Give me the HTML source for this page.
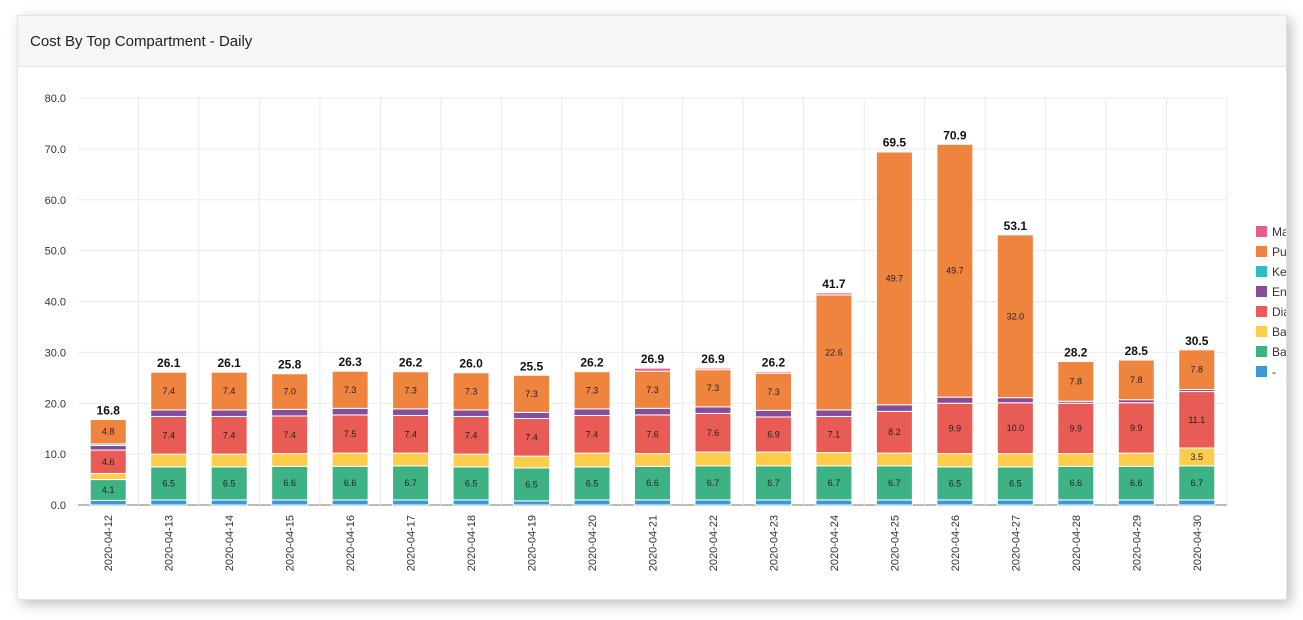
<!DOCTYPE html>
<html><head><meta charset="utf-8">
<style>
html,body{margin:0;padding:0;width:1303px;height:620px;overflow:hidden;background:#fff;font-family:"Liberation Sans",sans-serif;}
#card{position:absolute;left:17px;top:15px;width:1268px;height:583px;background:#fff;border:1px solid #e3e3e3;box-shadow:4px 4px 12px rgba(0,0,0,0.25);overflow:hidden;}
#hdr{position:absolute;left:0;top:0;right:0;height:50px;background:#f6f6f6;border-bottom:1px solid #e2e2e2;}
#hdr span{position:absolute;left:12px;top:17px;font-size:15px;color:#222;}
svg{position:absolute;left:0;top:0;}
</style></head><body>
<div id="card">
<div id="hdr"><span>Cost By Top Compartment - Daily</span></div>
<svg id="chart" width="1268" height="583"></svg>
</div>
<script>
const categories=["2020-04-12","2020-04-13","2020-04-14","2020-04-15","2020-04-16","2020-04-17","2020-04-18","2020-04-19","2020-04-20","2020-04-21","2020-04-22","2020-04-23","2020-04-24","2020-04-25","2020-04-26","2020-04-27","2020-04-28","2020-04-29","2020-04-30"];
const seriesNames=["-","Base","Backup","Diagnostics","Entities","Keys","Public","Management"];
const seriesColors=["#3a9ad9","#3db284","#fccd4a","#e95c55","#874d9b","#2bbfbf","#ee843e","#e85d8a"];
const sDash=[0.9,1.0,1.0,1.0,1.0,1.0,1.0,0.8,1.0,1.0,1.0,1.0,1.0,1.0,1.0,1.0,1.0,1.0,1.0];
const sBase=[4.1,6.5,6.5,6.6,6.6,6.7,6.5,6.5,6.5,6.6,6.7,6.7,6.7,6.7,6.5,6.5,6.6,6.6,6.7];
const sBackup=[1.2,2.5,2.5,2.5,2.6,2.5,2.5,2.3,2.7,2.5,2.7,2.7,2.6,2.5,2.6,2.6,2.5,2.6,3.5];
const sDiag=[4.6,7.4,7.4,7.4,7.5,7.4,7.4,7.4,7.4,7.6,7.6,6.9,7.1,8.2,9.9,10.0,9.9,9.9,11.1];
const sEnt=[0.9,1.3,1.3,1.3,1.3,1.3,1.3,1.2,1.3,1.3,1.3,1.3,1.3,1.3,1.2,1.0,0.4,0.6,0.4];
const sKeys=[0.3,0,0,0,0,0,0,0,0,0,0,0,0,0,0,0,0,0,0];
const sPublic=[4.8,7.4,7.4,7.0,7.3,7.3,7.3,7.3,7.3,7.3,7.3,7.3,22.6,49.7,49.7,32.0,7.8,7.8,7.8];
const sMgmt=[0,0,0,0,0,0,0,0,0,0.6,0.3,0.3,0.4,0.1,0,0,0,0,0];
const totals=["16.8","26.1","26.1","25.8","26.3","26.2","26.0","25.5","26.2","26.9","26.9","26.2","41.7","69.5","70.9","53.1","28.2","28.5","30.5"];
const yTicks=[0,10,20,30,40,50,60,70,80];
const series=[sDash,sBase,sBackup,sDiag,sEnt,sKeys,sPublic,sMgmt];

const NS="http://www.w3.org/2000/svg";
const svg=document.getElementById('chart');
const ox=17, oy=15;
const plotL=77-ox, plotR=1226-ox, plotB=504-oy, plotT=97-oy, yMax=80;
const band=(plotR-plotL)/categories.length, barW=36;
function y(v){return plotB-(v/yMax)*(plotB-plotT);}
function xc(i){return plotL+band*(i+0.5);}
function mk(tag,attrs,parent){const e=document.createElementNS(NS,tag);for(const k in attrs)e.setAttribute(k,attrs[k]);(parent||svg).appendChild(e);return e;}

yTicks.forEach(t=>{
  const l=mk('line',{x1:plotL,x2:plotR,y1:y(t),y2:y(t),stroke:t===0?'#bbb':'#e8ebef','stroke-width':t===0?2:1});
  
  
  const tx=mk('text',{x:plotL-12,y:y(t)+4,'text-anchor':'end','font-size':11,fill:'#333'});
  tx.textContent=t.toFixed(1);
  
  
});
for(let i=1;i<=categories.length;i++){
  const l=mk('line',{x1:plotL+band*i,x2:plotL+band*i,y1:plotT,y2:plotB,stroke:'#e8ebef','stroke-width':1});
  
  
}
categories.forEach((c,i)=>{
  let acc=0;
  series.forEach((s,k)=>{
    const v=s[i]; if(v<=0)return;
    const y0=y(acc), y1=y(acc+v); acc+=v;
    const r=mk('rect',{x:xc(i)-barW/2,y:y1,width:barW,height:y0-y1,fill:seriesColors[k],stroke:'#fff','stroke-width':1});
    
    
    if(v>=3.4){
      const t=mk('text',{x:xc(i),y:(y0+y1)/2+3,'text-anchor':'middle','font-size':9,fill:'#222'});
      t.textContent=v.toFixed(1);
      
      
    }
  });
  const tt=mk('text',{x:xc(i),y:y(acc)-5,'text-anchor':'middle','font-size':12,'font-weight':'bold',fill:'#111'});
  tt.textContent=totals[i];
  
  
  const xl=mk('text',{x:0,y:0,'text-anchor':'end','font-size':11,fill:'#333',transform:`translate(${xc(i)+4},${plotB+10}) rotate(-90)`});
  xl.textContent=c;
  
  
});
const order=[7,6,5,4,3,2,1,0];
order.forEach((k,j)=>{
  const ly=231-oy+j*20;
  const r=mk('rect',{x:1255-ox,y:ly-6,width:11,height:11,fill:seriesColors[k]});
  
  
  const t=mk('text',{x:1271-ox,y:ly+4,'font-size':12,fill:'#333'});
  t.textContent=seriesNames[k];
  
  
});
</script>
</body></html>
